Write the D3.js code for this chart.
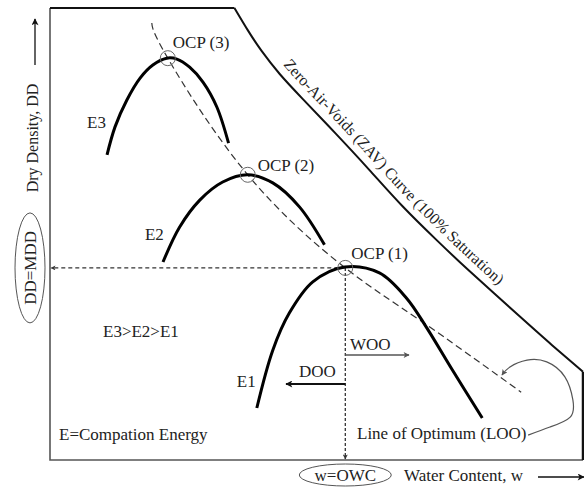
<!DOCTYPE html>
<html><head><meta charset="utf-8">
<script src="https://cdn.jsdelivr.net/npm/d3@7/dist/d3.min.js"></script>
<style>
html,body{margin:0;padding:0;background:#fff;}
</style></head>
<body>
<svg id="chart" width="584" height="487"></svg>
<script>
// ---- Data (schematic units: water content 0-100, dry density 0-100) ----
const zavW  = [34.6, 37.1, 39.7, 43.1, 47.4, 53.7, 59.9, 66.1, 72.5, 78.7, 88.0, 94.2, 100];
const zavDD = [100, 95.1, 90.5, 85.4, 79.9, 72.1, 64.2, 56.2, 48.7, 41.8, 31.9, 25.4, 19.5];

const e3W  = [10.7, 12.2, 14.4, 16.9, 19.3, 21.9, 23.8, 26.2, 28.7, 31.3, 33.5];
const e3DD = [67.5, 73.7, 79.6, 84.5, 87.4, 88.9, 88.7, 86.9, 83.6, 78.1, 70.1];

const e2W  = [21.2, 24.3, 28.1, 32.4, 37.1, 41.8, 46.8, 51.5];
const e2DD = [43.8, 51.5, 57.5, 61.5, 63.1, 61.3, 56.0, 47.6];

const e1W  = [38.8, 41.8, 44.9, 49.3, 55.3, 61.8, 66.9, 70.6, 75.5, 81.1];
const e1DD = [11.5, 24.3, 32.5, 39.4, 42.7, 41.4, 35.8, 29.4, 19.9, 9.3];

const looW  = [19.1, 22.1, 37.1, 55.4, 69.3, 88.4];
const looDD = [96.7, 88.9, 63.1, 42.5, 31.0, 15.0];

const ocpLabels = ["OCP (1)", "OCP (2)", "OCP (3)"];
const ocpW  = [55.4, 37.1, 22.1];
const ocpDD = [42.5, 63.1, 88.9];

const energyLabels = ["E1", "E2", "E3"];

const looNoteW  = [89.7, 93.8, 97.6, 98.1, 96.6, 93.2, 89.5, 86.3, 84.8];
const looNoteDD = [5.5, 7.3, 9.5, 13.3, 18.4, 21.7, 22.1, 20.6, 18.8];

// ---- Scales ----
const x = d3.scaleLinear().domain([0, 100]).range([50, 583]);
const y = d3.scaleLinear().domain([0, 100]).range([460, 8]);

const FONT = "'Liberation Serif', Tinos, 'Times New Roman', Times, 'DejaVu Serif', serif";
const svg = d3.select("#chart").style("font-family", FONT);
const defs = svg.append("defs");
function marker(id, color, w, h) {
  defs.append("marker").attr("id", id)
    .attr("viewBox", "0 0 10 10").attr("refX", 9).attr("refY", 5)
    .attr("markerWidth", w).attr("markerHeight", h)
    .attr("markerUnits", "userSpaceOnUse").attr("orient", "auto")
    .append("path").attr("d", "M0,0 L10,5 L0,10 L2.5,5 z").attr("fill", color);
}
marker("arrBlack", "#111", 11, 7);
marker("arrGray", "#555", 10, 6);
marker("arrSmall", "#333", 7, 5);

function label(sel) {
  return sel.append("text").attr("font-family", FONT).attr("fill", "#222").attr("font-size", 17);
}

const pts = (ws, ds) => ws.map((w, i) => [x(w), y(ds[i])]);
const smooth = d3.line().curve(d3.curveCatmullRom.alpha(0.5));
const natural = d3.line().curve(d3.curveNatural);
const straight = d3.line();

// ---- Frame: left & bottom axes ----
svg.append("path")
  .attr("d", straight([[x(0), y(100)], [x(0), y(0)], [x(100), y(0)]]))
  .attr("fill", "none").attr("stroke", "#555").attr("stroke-width", 1.6);

// ---- Frame: top edge + ZAV curve + right edge ----
const zavPts = pts(zavW, zavDD);
svg.append("path")
  .attr("d", straight([[x(0), y(100)], zavPts[0]]))
  .attr("fill", "none").attr("stroke", "#111").attr("stroke-width", 2);
svg.append("path").attr("id", "zav")
  .attr("d", natural(zavPts))
  .attr("fill", "none").attr("stroke", "#111").attr("stroke-width", 2);
svg.append("path")
  .attr("d", straight([zavPts[zavPts.length - 1], [x(100), y(0)]]))
  .attr("fill", "none").attr("stroke", "#111").attr("stroke-width", 2.5);

label(svg).attr("transform", "translate(6,-6)").attr("font-size", 16)
  .append("textPath").attr("href", "#zav").attr("startOffset", 76)
  .text("Zero-Air-Voids (ZAV) Curve (100% Saturation)");

// ---- MDD / OWC dotted guides ----
svg.append("path")
  .attr("d", straight([[x(ocpW[0]), y(ocpDD[0])], [x(0) + 1, y(ocpDD[0])]]))
  .attr("fill", "none").attr("stroke", "#333").attr("stroke-width", 1.2)
  .attr("stroke-dasharray", "4,3").attr("marker-end", "url(#arrSmall)");
svg.append("path")
  .attr("d", straight([[x(ocpW[0]), y(ocpDD[0])], [x(ocpW[0]), y(0) - 1]]))
  .attr("fill", "none").attr("stroke", "#222").attr("stroke-width", 1.2)
  .attr("stroke-dasharray", "3,2").attr("marker-end", "url(#arrSmall)");

// ---- Line of optimum (dashed) ----
svg.append("path")
  .attr("d", natural(pts(looW, looDD)))
  .attr("fill", "none").attr("stroke", "#333").attr("stroke-width", 1.2)
  .attr("stroke-dasharray", "7,4");

// ---- Compaction curves ----
[[e1W, e1DD], [e2W, e2DD], [e3W, e3DD]].forEach(([ws, ds]) => {
  svg.append("path").attr("d", smooth(pts(ws, ds)))
    .attr("fill", "none").attr("stroke", "#000").attr("stroke-width", 3)
    .attr("stroke-linecap", "butt");
});

// ---- OCP circles and labels ----
const ocpOff = [[6, -9], [10, -4], [5, -10]];
ocpW.forEach((w, i) => {
  svg.append("circle").attr("cx", x(w)).attr("cy", y(ocpDD[i])).attr("r", 7.5)
    .attr("fill", "none").attr("stroke", "#666").attr("stroke-width", 1);
  label(svg).attr("x", x(w) + ocpOff[i][0]).attr("y", y(ocpDD[i]) + ocpOff[i][1])
    .text(ocpLabels[i]);
});

// ---- Energy labels ----
const eStart = [[e1W[0], e1DD[0]], [e2W[0], e2DD[0]], [e3W[0], e3DD[0]]];
const eOff = [[-20, -21], [-18, -22], [-20, -27]];
energyLabels.forEach((t, i) => {
  label(svg).attr("x", x(eStart[i][0]) + eOff[i][0]).attr("y", y(eStart[i][1]) + eOff[i][1]).text(t);
});

label(svg).attr("x", 103).attr("y", 337).text("E3>E2>E1");
label(svg).attr("x", 59).attr("y", 440).text("E=Compation Energy");

// ---- WOO / DOO arrows ----
svg.append("path").attr("d", straight([[x(ocpW[0]), 355], [409, 355]]))
  .attr("stroke", "#555").attr("stroke-width", 1.3).attr("marker-end", "url(#arrGray)");
label(svg).attr("x", 350).attr("y", 350).text("WOO");
svg.append("path").attr("d", straight([[x(ocpW[0]), 384], [286, 384]]))
  .attr("stroke", "#111").attr("stroke-width", 2).attr("marker-end", "url(#arrBlack)");
label(svg).attr("x", 299).attr("y", 377).text("DOO");

// ---- Line of Optimum annotation ----
label(svg).attr("x", 357).attr("y", 439).text("Line of Optimum (LOO)");
svg.append("path").attr("d", natural(pts(looNoteW, looNoteDD)))
  .attr("fill", "none").attr("stroke", "#555").attr("stroke-width", 1.2)
  .attr("marker-end", "url(#arrGray)");

// ---- Axis titles ----
svg.append("ellipse").attr("cx", x(ocpW[0])).attr("cy", 475).attr("rx", 46).attr("ry", 11)
  .attr("fill", "none").attr("stroke", "#555").attr("stroke-width", 1);
label(svg).attr("x", x(ocpW[0])).attr("y", 481).attr("text-anchor", "middle").text("w=OWC");
label(svg).attr("x", 404).attr("y", 481).text("Water Content, w");
svg.append("path").attr("d", straight([[538, 477], [584, 477]]))
  .attr("stroke", "#111").attr("stroke-width", 1.3).attr("marker-end", "url(#arrBlack)");

svg.append("ellipse").attr("cx", 30).attr("cy", y(ocpDD[0])).attr("rx", 15).attr("ry", 55)
  .attr("fill", "none").attr("stroke", "#555").attr("stroke-width", 1);
label(svg).attr("transform", `translate(36,${y(ocpDD[0])}) rotate(-90)`)
  .attr("text-anchor", "middle").text("DD=MDD");
label(svg).attr("transform", "translate(38,138) rotate(-90)").attr("font-size", 16)
  .attr("text-anchor", "middle").text("Dry Density, DD");
svg.append("path").attr("d", straight([[35, 65], [35, 19]]))
  .attr("stroke", "#111").attr("stroke-width", 1.3).attr("marker-end", "url(#arrBlack)");
</script>
</body></html>
